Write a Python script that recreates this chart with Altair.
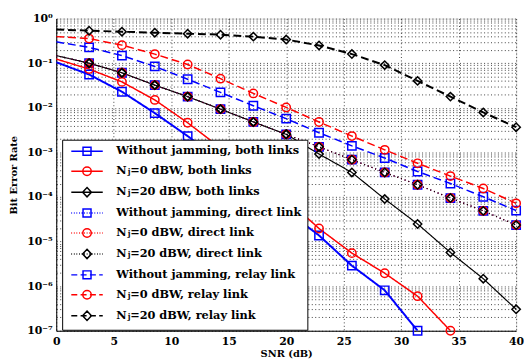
import altair as alt
import pandas as pd

snr = [0, 2.857, 5.714, 8.571, 11.429, 14.286, 17.143, 20.0, 22.857,
       25.714, 28.571, 31.429, 34.286, 37.143, 40.0]

labels = [
    "Without jamming, both links",
    "Nⱼ=0 dBW, both links",
    "Nⱼ=20 dBW, both links",
    "Without jamming, direct link",
    "Nⱼ=0 dBW, direct link",
    "Nⱼ=20 dBW, direct link",
    "Without jamming, relay link",
    "Nⱼ=0 dBW, relay link",
    "Nⱼ=20 dBW, relay link",
]

ber_wj_both = [0.105, 0.0557, 0.0229, 0.0076, 0.00232, 6.5e-4, 1.8e-4, 5.0e-5,
               1.37e-5, 2.88e-6, 8.07e-7, 1.0e-7]
ber_nj0_both = [0.124, 0.0737, 0.0381, 0.015, 0.00462, 1.26e-3, 3.4e-4, 9.1e-5,
                1.96e-5, 5.5e-6, 1.95e-6, 5.96e-7, 1.0e-7]
ber_nj20_both = [0.148, 0.1, 0.061, 0.0322, 0.0178, 0.00933, 0.00481, 0.00254,
                 9.18e-4, 3.55e-4, 8.99e-5, 2.48e-5, 5.69e-6, 1.47e-6, 3.03e-7]
ber_direct = [0.148, 0.1, 0.061, 0.0322, 0.0178, 0.00933, 0.00481, 0.00254,
              1.33e-3, 6.87e-4, 3.55e-4, 1.88e-4, 9.46e-5, 4.88e-5, 2.34e-5]
ber_wj_relay = [0.301, 0.226, 0.148, 0.0846, 0.0437, 0.0221, 0.0111, 0.00572,
                0.00275, 0.0014, 7.48e-4, 3.73e-4, 2.0e-4, 1.01e-4, 4.96e-5]
ber_nj0_relay = [0.394, 0.356, 0.254, 0.160, 0.0936, 0.045, 0.021, 0.0102,
                 0.0048, 0.00232, 0.00114, 5.69e-4, 2.94e-4, 1.55e-4, 7.2e-5]
ber_nj20_relay = [0.57, 0.536, 0.508, 0.483, 0.459, 0.436, 0.394, 0.339,
                  0.25, 0.160, 0.0904, 0.0401, 0.0178, 0.00787, 0.00367]

series_vals = [ber_wj_both, ber_nj0_both, ber_nj20_both,
               ber_direct, ber_direct, ber_direct,
               ber_wj_relay, ber_nj0_relay, ber_nj20_relay]

colors = ["#0000FF", "#FF0000", "#000000"] * 3
marker_names = ["square", "circle", "diamond"]
styles = ["solid"] * 3 + ["dotted"] * 3 + ["dashed"] * 3
style_names = ["solid", "dotted", "dashed"]
style_dashes = [[1, 0], [1, 3], [8, 4]]
widths = [2.0, 1.5, 1.2, 1.2, 1.2, 1.2, 1.5, 1.5, 2.0]

x_ticks = [0, 5, 10, 15, 20, 25, 30, 35, 40]
y_ticks = [m * 10.0 ** e for e in range(-7, 0) for m in range(1, 10)] + [1.0]

# ---- legend sample glyphs (line style + marker) as SVG paths in unit space
HALF = 3.55
marker_path = {
    "square": "M-0.9,-0.9H0.9V0.9H-0.9Z",
    "circle": "M-0.95,0A0.95,0.95,0,1,0,0.95,0A0.95,0.95,0,1,0,-0.95,0Z",
    "diamond": "M0,-1.05L1,0L0,1.05L-1,0Z",
}


def line_path(style):
    if style == "solid":
        return "M%.2f,0H%.2f" % (-HALF, HALF)
    if style == "dashed":
        on, period = 1.35, 2.1
    else:
        on, period = 0.18, 0.58
    parts = []
    x = -HALF
    while x < HALF:
        x2 = min(x + on, HALF)
        parts.append("M%.2f,0H%.2f" % (x, x2))
        x += period
    return "".join(parts)


legend_paths = [line_path(styles[i]) + marker_path[marker_names[i % 3]] for i in range(9)]

rows = []
for k, (lab, vals) in enumerate(zip(labels, series_vals)):
    for s, b in zip(snr, vals):
        rows.append({"snr": s, "ber": b, "series": lab, "k": k, "m": k % 3,
                     "style": styles[k], "lw": widths[k]})
df = pd.DataFrame(rows)

FONT = "DejaVu Serif"
FS = 11
LFS = 11.5

xscale = alt.Scale(domain=[0, 40], nice=False, zero=False)
yscale = alt.Scale(type="log", domain=[1e-7, 1], nice=False)
cscale = alt.Scale(domain=labels, range=colors)

GRID = dict(grid=True, gridDash=[1, 2.5], gridColor="#000", gridOpacity=0.75)

xaxis = alt.Axis(values=x_ticks, ticks=False, labelFont=FONT, labelFontWeight="bold",
                 labelFontSize=FS, labelColor="#000", labelPadding=5, domainColor="#000",
                 title="SNR (dB)", titleFont=FONT, titleFontWeight="bold",
                 titleFontSize=10, titleColor="#000", titlePadding=2, labelFlush=False, **GRID)

label_expr = ("abs(log(datum.value)/LN10 - round(log(datum.value)/LN10)) < 0.01 ? "
              "'10' + ['⁰','⁻¹','⁻²','⁻³','⁻⁴','⁻⁵','⁻⁶','⁻⁷'][-round(log(datum.value)/LN10)] : ''")
yaxis = alt.Axis(values=y_ticks, ticks=False, labelExpr=label_expr, labelOverlap=False,
                 labelFont=FONT, labelFontWeight="bold", labelFontSize=FS, labelColor="#000",
                 labelPadding=4, domainColor="#000", labelFlush=False,
                 title="Bit Error Rate", titleFont=FONT, titleFontWeight="bold",
                 titleFontSize=10, titleColor="#000", titlePadding=8, **GRID)

leg = alt.Legend(title=None, orient="none", legendX=6, legendY=123,
                 labelFont=FONT, labelFontWeight="bold", labelFontSize=LFS,
                 labelColor="#000", labelLimit=400, rowPadding=5.25, padding=6,
                 symbolOffset=13.5, labelOffset=24, symbolStrokeWidth=1.5,
                 symbolSize=81, fillColor="white", strokeColor="black")

base = alt.Chart(df)

lines = base.mark_line(clip=True).encode(
    x=alt.X("snr:Q", scale=xscale, axis=xaxis),
    y=alt.Y("ber:Q", scale=yscale, axis=yaxis),
    color=alt.Color("series:N", scale=cscale, legend=leg),
    strokeDash=alt.StrokeDash("style:N", scale=alt.Scale(domain=style_names, range=style_dashes), legend=None),
    strokeWidth=alt.StrokeWidth("lw:Q", scale=None, legend=None),
    detail="series:N",
    order=alt.Order("snr:Q"),
)

marker_layers = []
for mi, mname in enumerate(marker_names):
    marker_layers.append(
        base.transform_filter("datum.snr > 0 && datum.m == %d" % mi).mark_point(
            filled=False, size=72, strokeWidth=1.5, opacity=1, clip=False, shape=mname
        ).encode(
            x=alt.X("snr:Q", scale=xscale),
            y=alt.Y("ber:Q", scale=yscale),
            color=alt.Color("series:N", scale=cscale, legend=leg),
        )
    )

legend_layer = base.transform_filter("false").mark_point(filled=False, opacity=1).encode(
    x=alt.X("snr:Q", scale=xscale),
    y=alt.Y("ber:Q", scale=yscale),
    color=alt.Color("series:N", scale=cscale, legend=leg),
    shape=alt.Shape("series:N", scale=alt.Scale(domain=labels, range=legend_paths), legend=leg),
)

chart = alt.layer(lines, *marker_layers, legend_layer).properties(
    width=467, height=317,
    padding={"left": 49, "top": 8, "right": 8, "bottom": 31},
    autosize=alt.AutoSizeParams(type="none"),
).configure_view(stroke="#000", strokeWidth=1).configure(background="white")

chart.save("out.html", embed_options={"renderer": "svg", "actions": False})
